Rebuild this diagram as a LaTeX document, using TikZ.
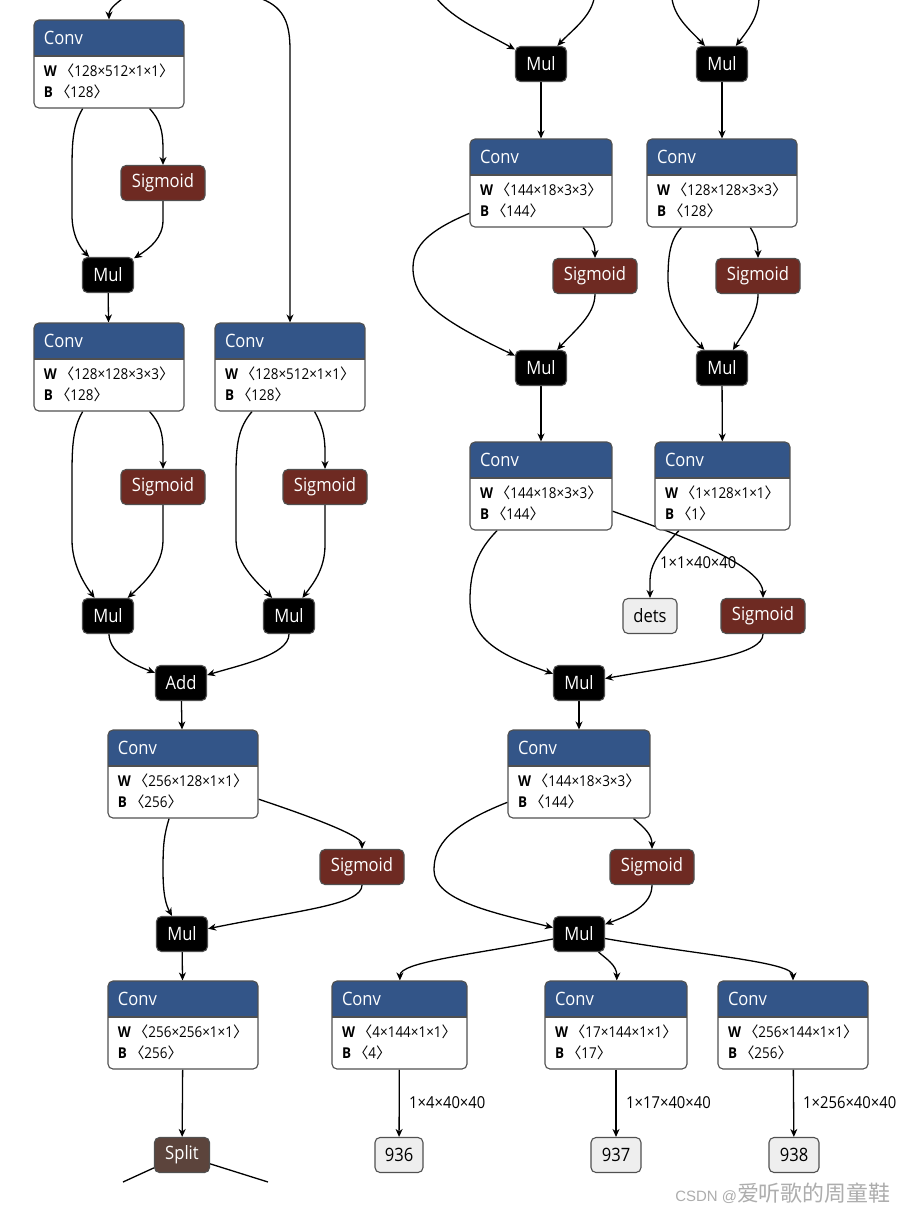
\documentclass[tikz,border=0pt]{standalone}
\usepackage{fontspec}
\setmainfont{Open Sans}[FakeStretch=0.9]
\newfontfamily\cjk{Noto Sans CJK SC}
\newfontfamily\wmfont{Liberation Sans}
\usetikzlibrary{arrows.meta,shapes,backgrounds}

\definecolor{convblue}{HTML}{335588}
\definecolor{sigred}{HTML}{6E2A22}
\definecolor{splitbrown}{HTML}{5C443C}
\definecolor{boxgray}{HTML}{505050}
\definecolor{iofill}{HTML}{EEEEEE}

\newcommand{\opfont}{\fontsize{18.5}{18.5}\selectfont}
\newcommand{\attrfont}{\fontsize{15}{15}\selectfont}
\newcommand{\lblfont}{\fontsize{16.5}{16.5}\selectfont}

\tikzset{
  op/.style={draw=boxgray, rounded corners=5bp, minimum height=35bp, inner sep=0pt, text=white, font=\opfont},
  mul/.style={op, fill=black, minimum width=51bp},
  sig/.style={op, fill=sigred, minimum width=84bp},
  splitop/.style={op, fill=splitbrown, minimum width=55bp},
  io/.style={op, fill=iofill, text=black, minimum width=#1},
  lbl/.style={font=\lblfont, anchor=west, inner sep=0pt},
  attr/.style={anchor=base west, font=\attrfont, inner sep=0pt},
  conv/.style={draw=boxgray, fill=white, rounded corners=5bp, minimum width=#1, minimum height=88bp, inner sep=0pt,
    path picture={
      \fill[convblue, sharp corners] (path picture bounding box.north west) rectangle ([yshift=-36bp]path picture bounding box.north east);
      \draw[boxgray, sharp corners] ([yshift=-36bp]path picture bounding box.north west) -- ([yshift=-36bp]path picture bounding box.north east);
    }},
}
% name, position, width, W shape, B shape
\newcommand{\convnode}[5]{%
  \node (#1) at (#2) [conv=#3] {};
  \node [attr, anchor=west, text=white, font=\opfont] at ([shift={(10bp,-18bp)}]#1.north west) {Conv};
  \node [attr] at ([shift={(10bp,-57bp)}]#1.north west) {\textbf{W}\,{\cjk 〈}#4{\cjk 〉}};
  \node [attr] at ([shift={(10bp,-78bp)}]#1.north west) {\textbf{B}\,{\cjk 〈}#5{\cjk 〉}};
}

\begin{document}
\begin{tikzpicture}[x=1bp,y=-1bp,>={Stealth[length=8bp,width=7bp,inset=2.5bp]},line width=1.1bp]
  \useasboundingbox (0,0) rectangle (907,1212);
  % left branch
  \convnode{conv1}{109,64}{150bp}{128×512×1×1}{128}
  \node (sig1) at (163,183) [sig] {Sigmoid};
  \node (mul1) at (108,275) [mul] {Mul};
  \convnode{conv2}{109,367}{150bp}{128×128×3×3}{128}
  \convnode{conv3}{290,367}{150bp}{128×512×1×1}{128}
  \node (sig2) at (163,487) [sig] {Sigmoid};
  \node (sig3) at (325,487) [sig] {Sigmoid};
  \node (mul2) at (108,616) [mul] {Mul};
  \node (mul3) at (289,616) [mul] {Mul};
  \node (add) at (181,683) [mul] {Add};
  \convnode{conv4}{183,774}{150bp}{256×128×1×1}{256}
  \node (sig4) at (362,867) [sig] {Sigmoid};
  \node (mul4) at (182,934) [mul] {Mul};
  \convnode{conv5}{183,1025}{150bp}{256×256×1×1}{256}
  \node (split) at (182,1155) [splitop] {Split};
  % right branch
  \node (mul5) at (541,64) [mul] {Mul};
  \node (mul6) at (722,64) [mul] {Mul};
  \convnode{conv6}{541,183}{142bp}{144×18×3×3}{144}
  \convnode{conv7}{722,183}{150bp}{128×128×3×3}{128}
  \node (sig5) at (595,276) [sig] {Sigmoid};
  \node (sig6) at (758,276) [sig] {Sigmoid};
  \node (mul7) at (541,368) [mul] {Mul};
  \node (mul8) at (722,368) [mul] {Mul};
  \convnode{conv8}{541,486}{142bp}{144×18×3×3}{144}
  \convnode{conv9}{722.5,486}{135bp}{1×128×1×1}{1}
  \node (dets) at (650,616) [io=54bp] {dets};
  \node (sig7) at (763,616) [sig] {Sigmoid};
  \node (mul9) at (579,683) [mul] {Mul};
  \convnode{conv10}{579,774}{142bp}{144×18×3×3}{144}
  \node (sig8) at (652,867) [sig] {Sigmoid};
  \node (mul10) at (579,934) [mul] {Mul};
  \convnode{conv11}{399.5,1025}{135bp}{4×144×1×1}{4}
  \convnode{conv12}{616,1025}{142bp}{17×144×1×1}{17}
  \convnode{conv13}{793,1025}{150bp}{256×144×1×1}{256}
  \node (out936) at (399,1155) [io=48bp] {936};
  \node (out937) at (616,1155) [io=50bp] {937};
  \node (out938) at (794,1155) [io=50bp] {938};
  % cut ends
  \coordinate (top1) at (122,-1);
  \coordinate (top2) at (262,-1);
  \coordinate (top3) at (437,-1);
  \coordinate (top4) at (594,-1);
  \coordinate (top5) at (672,-1);
  \coordinate (top6) at (759,-1);
  \coordinate (bot1) at (123,1182);
  \coordinate (bot2) at (268,1182);
  \node (wm) at (891,1201) [anchor=base east, inner sep=0pt, text=black!32] {{\wmfont\fontsize{15}{15}\selectfont CSDN @}{\cjk\fontsize{22}{22}\selectfont 爱听歌的周童鞋}};

  \begin{pgfonlayer}{background}
  \fill[white] (0,0) rectangle (907,1212);
  \begin{scope}[line width=1.3bp]
  \draw [->] (top1) ..controls (110,8) and (109,12) .. (conv1);
  \draw [->] (top2) ..controls (285,8) and (290,25) .. (290,50) -- (conv3);
  \draw [->] (top3) ..controls (455,20) and (480,30) .. (mul5);
  \draw [->] (top4) ..controls (590,18) and (570,32) .. (mul5);
  \draw [->] (top5) ..controls (675,18) and (690,30) .. (mul6);
  \draw [->] (top6) ..controls (758,18) and (748,30) .. (mul6);
  \draw [->] (conv1) ..controls (73,125) and (72,140) .. (72,170) -- (72,215) ..controls (72,235) and (80,248) .. (mul1);
  \draw [->] (conv1) ..controls (160,120) and (163,130) .. (163,150) -- (sig1);
  \draw [->] (sig1) -- (163,220) ..controls (163,238) and (150,248) .. (mul1);
  \draw [->] (mul1) -- (conv2);
  \draw [->] (conv2) ..controls (73,428) and (72,445) .. (72,475) -- (72,540) ..controls (72,565) and (85,585) .. (mul2);
  \draw [->] (conv2) ..controls (160,423) and (163,433) .. (163,450) -- (sig2);
  \draw [->] (sig2) -- (163,540) ..controls (163,565) and (145,582) .. (mul2);
  \draw [->] (conv3) ..controls (238,428) and (236,445) .. (236,475) -- (236,540) ..controls (236,565) and (260,585) .. (mul3);
  \draw [->] (conv3) ..controls (322,425) and (325,435) .. (325,452) -- (sig3);
  \draw [->] (sig3) -- (325,545) ..controls (325,570) and (312,585) .. (mul3);
  \draw [->] (mul2) ..controls (110,655) and (135,665) .. (add);
  \draw [->] (mul3) ..controls (289,655) and (240,665) .. (add);
  \draw [->] (add) -- (conv4);
  \draw [->] (conv4) ..controls (164,835) and (163,845) .. (163,870) ..controls (163,895) and (166,905) .. (mul4);
  \draw [->] (conv4) ..controls (300,813) and (362,835) .. (sig4);
  \draw [->] (sig4) ..controls (362,905) and (300,910) .. (mul4);
  \draw [->] (mul4) -- (conv5);
  \draw [->] (conv5) -- (split);
  \draw (split) -- (bot1);
  \draw (split) -- (bot2);
  \draw [->] (mul5) -- (conv6);
  \draw [->] (mul6) -- (conv7);
  \draw [->] (conv6) ..controls (430,230) and (413,245) .. (413,268) ..controls (413,300) and (440,320) .. (mul7);
  \draw [->] (conv6) ..controls (590,235) and (595,242) .. (sig5);
  \draw [->] (sig5) ..controls (595,315) and (575,330) .. (mul7);
  \draw [->] (conv7) ..controls (670,240) and (668,255) .. (668,280) ..controls (668,310) and (690,335) .. (mul8);
  \draw [->] (conv7) ..controls (755,235) and (758,242) .. (sig6);
  \draw [->] (sig6) ..controls (758,315) and (745,330) .. (mul8);
  \draw [->] (mul7) -- (conv8);
  \draw [->] (mul8) -- (conv9);
  \draw [->] (conv8) ..controls (478,550) and (470,570) .. (470,600) ..controls (470,640) and (500,655) .. (mul9);
  \draw [->] (conv8) ..controls (680,535) and (763,565) .. (sig7);
  \draw [->] (conv9) ..controls (660,550) and (650,565) .. (650,580) -- (dets);
  \draw [->] (sig7) ..controls (763,655) and (700,662) .. (mul9);
  \draw [->] (mul9) -- (conv10);
  \draw [->] (conv10) ..controls (450,825) and (434,845) .. (434,870) ..controls (434,900) and (490,912) .. (mul10);
  \draw [->] (conv10) ..controls (645,828) and (652,835) .. (sig8);
  \draw [->] (sig8) ..controls (652,905) and (630,915) .. (mul10);
  \draw [->] (mul10) ..controls (470,955) and (400,962) .. (conv11);
  \draw [->] (mul10) ..controls (605,958) and (617,965) .. (conv12);
  \draw [->] (mul10) ..controls (700,955) and (793,962) .. (conv13);
  \draw [->] (conv11) -- (out936);
  \draw [->] (conv12) -- (out937);
  \draw [->] (conv13) -- (out938);
  \end{scope}
  \end{pgfonlayer}

  \node (l1) at (660,563) [lbl] {1×1×40×40};
  \node (l936) at (409,1103) [lbl] {1×4×40×40};
  \node (l937) at (626,1103) [lbl] {1×17×40×40};
  \node (l938) at (803,1103) [lbl] {1×256×40×40};
\end{tikzpicture}
\end{document}
